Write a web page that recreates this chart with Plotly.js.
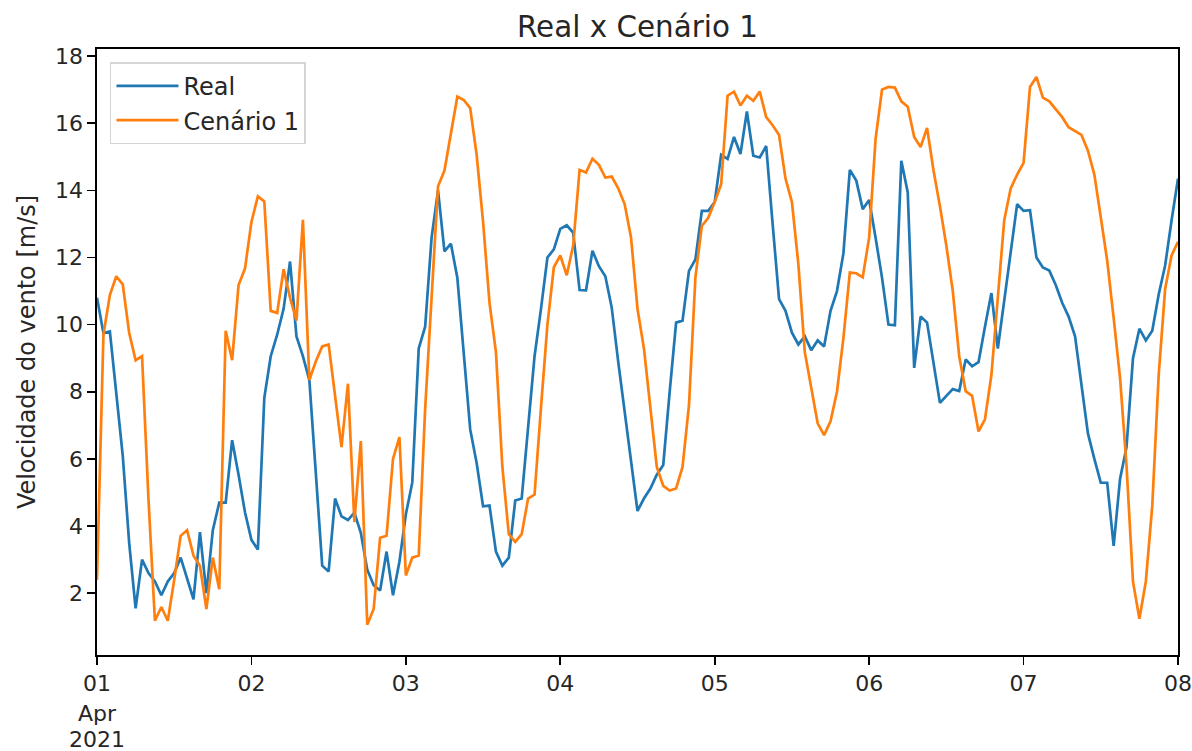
<!DOCTYPE html>
<html>
<head>
<meta charset="utf-8">
<script src="https://cdn.plot.ly/plotly-3.0.1.min.js"></script>
<style>html,body{margin:0;padding:0;background:#fff;}#chart{width:1192px;height:751px;}</style>
</head>
<body>
<div id="chart"></div>
<script>
// Hourly series, 2021-04-01 00:00 to 2021-04-08 00:00
const startDate = "2021-04-01T00:00:00Z";
const real = [
10.8,9.75,9.8,7.9,6.1,3.5,1.55,3.0,2.6,2.35,1.94,2.35,2.6,3.06,2.47,1.82,3.82,2.0,3.88,4.7,4.7,6.56,5.53,4.41,
3.59,3.3,7.82,9.06,9.7,10.47,11.88,9.65,9.06,8.35,5.6,2.82,2.65,4.82,4.29,4.18,4.4,3.8,2.7,2.24,2.08,3.24,1.94,2.94,
4.35,5.3,9.29,9.94,12.59,14.0,12.18,12.41,11.4,9.06,6.88,5.88,4.59,4.61,3.24,2.82,3.06,4.76,4.82,6.94,9.06,10.47,12.0,12.24,
12.85,12.96,12.74,11.03,11.02,12.2,11.74,11.44,10.5,8.9,7.4,5.9,4.45,4.82,5.12,5.53,5.82,8.0,10.06,10.12,11.6,11.94,13.39,13.39,
13.65,15.06,14.94,15.59,15.08,16.35,15.03,14.98,15.32,13.0,10.76,10.41,9.76,9.41,9.65,9.24,9.53,9.35,10.41,11.0,12.12,14.61,14.29,13.44,
13.71,12.59,11.4,10.0,9.98,14.88,13.94,8.71,10.24,10.06,8.8,7.67,7.88,8.08,8.02,8.96,8.76,8.88,9.94,10.94,9.29,10.7,12.1,13.59,
13.39,13.41,12.0,11.7,11.61,11.18,10.65,10.24,9.65,8.24,6.76,6.0,5.29,5.29,3.41,5.41,6.35,8.99,9.88,9.53,9.82,10.9,11.76,13.1,
14.35
];
const cenario1 = [
2.4,9.7,10.88,11.44,11.2,9.76,8.94,9.06,4.8,1.18,1.59,1.18,2.4,3.71,3.88,3.12,2.82,1.53,3.06,2.12,9.82,8.94,11.18,11.67,
13.06,13.82,13.67,10.41,10.35,11.65,10.8,10.12,13.12,8.35,8.9,9.35,9.41,7.9,6.35,8.24,4.12,6.53,1.06,1.53,3.65,3.71,6.0,6.65,
2.53,3.06,3.12,7.5,11.0,14.12,14.59,15.65,16.79,16.69,16.45,15.06,13.06,10.65,9.18,5.76,3.76,3.53,3.76,4.82,4.94,7.53,10.0,11.71,
12.06,11.47,12.35,14.61,14.53,14.94,14.76,14.38,14.41,14.06,13.59,12.59,10.47,9.29,7.5,5.76,5.2,5.06,5.12,5.76,7.6,11.41,12.94,13.18,
13.65,14.18,16.82,16.94,16.53,16.82,16.67,16.94,16.18,15.94,15.65,14.35,13.65,11.8,9.18,8.12,7.06,6.71,7.12,8.0,9.6,11.55,11.53,11.41,
12.59,15.53,17.0,17.08,17.06,16.65,16.49,15.59,15.29,15.86,14.6,13.53,12.35,11.0,9.06,8.02,7.88,6.82,7.18,8.5,10.7,13.12,14.06,14.47,
14.82,17.08,17.38,16.76,16.65,16.41,16.18,15.88,15.76,15.65,15.18,14.47,13.2,11.9,10.2,8.4,5.8,2.35,1.24,2.35,4.6,8.5,11.06,12.06,
12.47
];
const tickDates = ["2021-04-01","2021-04-02","2021-04-03","2021-04-04","2021-04-05","2021-04-06","2021-04-07","2021-04-08"];
const tickLabels = ["01","02","03","04","05","06","07","08"];
const firstTickExtra = ["Apr","2021"];
const yTicks = [2,4,6,8,10,12,14,16,18];

function hourly(n){
  const t0 = Date.parse(startDate);
  const out = [];
  for(let i=0;i<n;i++){
    const d = new Date(t0 + i*3600000);
    out.push(d.toISOString().slice(0,19).replace("T"," "));
  }
  return out;
}
const x = hourly(real.length);

const FAM = "DejaVu Sans, sans-serif";
const tickFont = {family:FAM, size:22, color:"#262626"};
const labelFont = {family:FAM, size:24, color:"#262626"};
const traces = [
  {x:x, y:real, type:"scatter", mode:"lines", name:"Real", legendgroup:"a", line:{color:"#1f77b4", width:2.7}},
  {x:x, y:cenario1, type:"scatter", mode:"lines", name:"Cenário 1", legendgroup:"b", line:{color:"#ff7f0e", width:2.7}}
];
// extra lines of the first date tick label (month, year), placed under "01"
const annots = firstTickExtra.map((t,i)=>({
  text:t, xref:"x", x:tickDates[0], yref:"paper", y:-(58 + i*26)/606,
  xanchor:"center", yanchor:"middle", showarrow:false, font:tickFont
}));
const layout = {
  width:1192, height:751,
  margin:{l:97, r:14, t:49, b:96},
  paper_bgcolor:"#fff", plot_bgcolor:"#fff",
  font:tickFont,
  title:{text:"Real x Cenário 1", font:{family:FAM, size:29.4, color:"#262626"}, xref:"paper", x:0.5, xanchor:"center", yref:"container", y:0.965, yanchor:"middle"},
  showlegend:true,
  legend:{x:0.012, y:0.978, xanchor:"left", yanchor:"top", bgcolor:"rgba(255,255,255,0.8)", bordercolor:"#d5d5d5", borderwidth:1.5,
    font:labelFont, itemwidth:62, traceorder:"normal", tracegroupgap:3},
  annotations:annots,
  xaxis:{type:"date", range:["2021-04-01 00:00:00","2021-04-08 00:00:01"], tickmode:"array", tickvals:tickDates, ticktext:tickLabels,
    showgrid:false, zeroline:false, showline:true, linecolor:"#000", linewidth:1.6, mirror:true,
    ticks:"outside", ticklen:8, tickwidth:1.6, tickcolor:"#000", tickfont:tickFont, ticklabeloverflow:"allow"},
  yaxis:{range:[0.16,18.21], tickmode:"array", tickvals:yTicks,
    showgrid:false, zeroline:false, showline:true, linecolor:"#000", linewidth:1.6, mirror:true,
    ticks:"outside", ticklen:8, tickwidth:1.6, tickcolor:"#000", tickfont:tickFont,
    title:{text:"Velocidade do vento [m/s]", font:labelFont, standoff:12}}
};
Plotly.newPlot("chart", traces, layout, {displayModeBar:false, staticPlot:true});
</script>
</body>
</html>
